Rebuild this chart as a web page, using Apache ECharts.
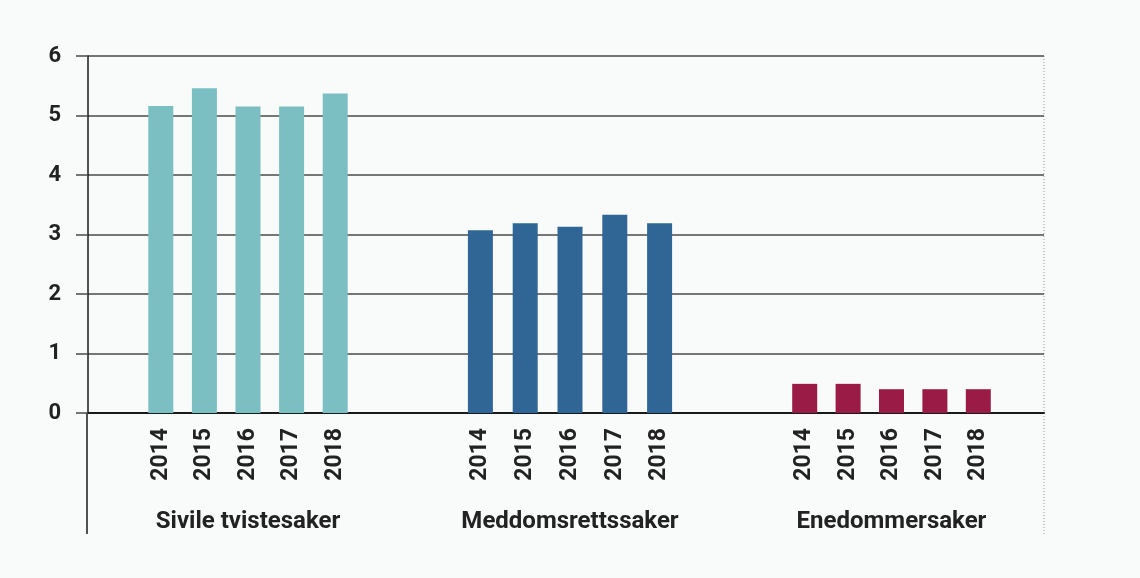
<!DOCTYPE html>
<html>
<head>
<meta charset="utf-8">
<script src="https://cdn.jsdelivr.net/npm/echarts@6/dist/echarts.min.js"></script>
<style>
  html, body { margin: 0; padding: 0; background: #f8fbfa; }
  #chart { width: 1140px; height: 578px; }
</style>
</head>
<body>
<div id="chart"></div>
<script>
var years = ['2014', '2015', '2016', '2017', '2018'];
var groups = ['Sivile tvistesaker', 'Meddomsrettssaker', 'Enedommersaker'];
var sivile = [5.16, 5.46, 5.15, 5.15, 5.37];
var meddom = [3.07, 3.19, 3.13, 3.33, 3.19];
var enedom = [0.49, 0.49, 0.40, 0.40, 0.40];
var yTicks = [0, 1, 2, 3, 4, 5, 6];

var colors = ['#7bbfc3', '#2f6696', '#9a1c46'];
var values = [sivile, meddom, enedom];
// left/right of each group's own grid (px)
var groupGrids = [[139, 783], [458, 458], [783, 140]];

var myChart = echarts.init(document.getElementById('chart'));
var font = 'Roboto, "DejaVu Sans", sans-serif';

var grid = [{ left: 88, right: 96, top: 56, bottom: 165 }];
var xAxis = [{
    gridIndex: 0, type: 'category', data: [''],
    axisLine: { lineStyle: { color: '#1a1a1a', width: 2 } },
    axisTick: { show: false }, axisLabel: { show: false }
}];
var yAxis = [{
    gridIndex: 0, type: 'value', min: yTicks[0], max: yTicks[yTicks.length - 1], interval: 1,
    axisLine: { show: true, lineStyle: { color: '#1a1a1a', width: 1.5 } },
    axisTick: { show: true, length: 12, lineStyle: { color: '#4a4a4a', width: 1.5 } },
    axisLabel: { margin: 27, color: '#222', fontFamily: font, fontWeight: 'bold', fontSize: 22 },
    splitLine: { lineStyle: { color: '#4a4a4a', width: 1.5 } }
}];
var series = [];

groups.forEach(function (name, i) {
    grid.push({ left: groupGrids[i][0], right: groupGrids[i][1], top: 56, bottom: 165 });
    xAxis.push({
        gridIndex: i + 1, type: 'category', data: years,
        name: name, nameLocation: 'middle', nameGap: 97,
        nameTextStyle: { color: '#222', fontFamily: font, fontWeight: 'bold', fontSize: 24 },
        axisLine: { show: false }, axisTick: { show: false },
        axisLabel: { rotate: 90, margin: 15, color: '#222', fontFamily: font, fontWeight: 'bold', fontSize: 23 }
    });
    yAxis.push({
        gridIndex: i + 1, type: 'value', min: 0, max: 6, show: false
    });
    series.push({
        type: 'bar', xAxisIndex: i + 1, yAxisIndex: i + 1,
        data: values[i], barWidth: 25,
        itemStyle: { color: colors[i] }
    });
});

var option = {
    backgroundColor: '#f8fbfa',
    animation: false,
    grid: grid,
    xAxis: xAxis,
    yAxis: yAxis,
    series: series,
    graphic: [
        { type: 'line', shape: { x1: 87, y1: 413, x2: 87, y2: 534 },
          style: { stroke: '#1a1a1a', lineWidth: 1.5 } },
        { type: 'line', shape: { x1: 1044, y1: 56, x2: 1044, y2: 536 },
          style: { stroke: '#999', lineWidth: 1, lineDash: [1, 2] } }
    ]
};

option && myChart.setOption(option);
</script>
</body>
</html>
